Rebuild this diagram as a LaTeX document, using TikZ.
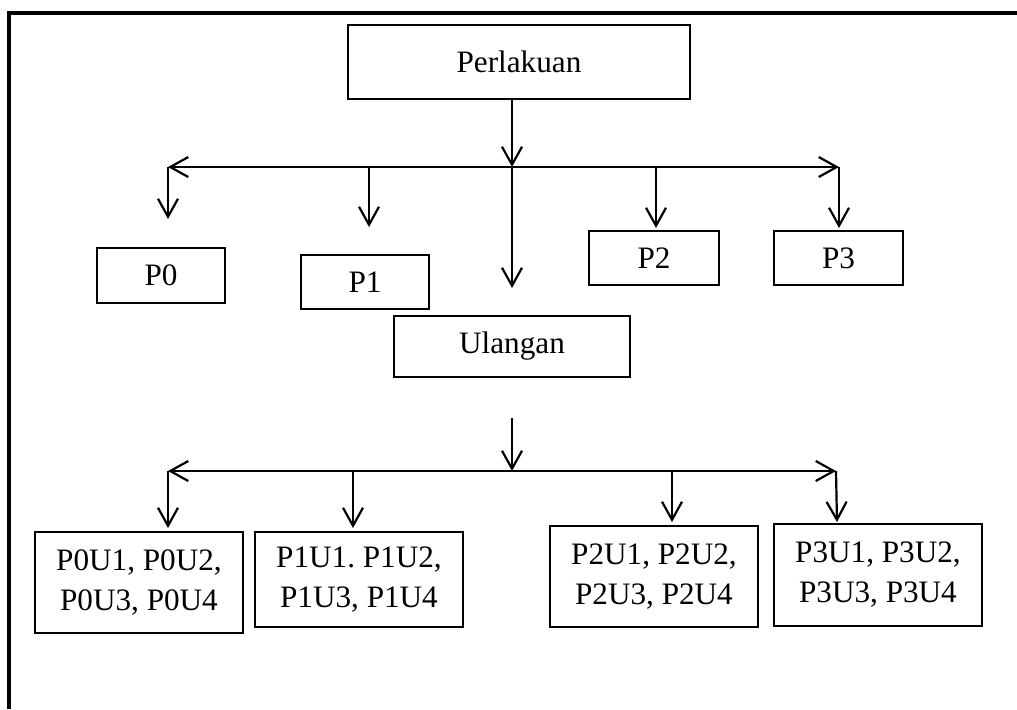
\documentclass[tikz,border=0pt]{standalone}
\usepackage{fontspec}
\setmainfont{Liberation Serif}
\usetikzlibrary{arrows.meta}
\frenchspacing
\begin{document}
\begin{tikzpicture}[x=0.5pt,y=-0.5pt,
  box/.style={draw, line width=0.7pt, inner sep=0pt, align=center,
    font=\fontsize{15.6pt}{20pt}\selectfont},
  conn/.style={line width=1.1pt, -{Straight Barb[length=9pt,width=10pt,line width=1.1pt]}},
  conn2/.style={line width=1.1pt, {Straight Barb[length=9pt,width=10pt,line width=1.1pt]}-{Straight Barb[length=9pt,width=10pt,line width=1.1pt]}},
  frame/.style={line width=2pt, line join=miter}]
\useasboundingbox (0,0) rectangle (1017,709);
\draw[frame] (9,709) -- (9,13) -- (1017,13);

% boxes
\node[box, minimum width=171pt, minimum height=37pt] (perl) at (519,62) {Perlakuan};
\node[box, minimum width=64pt, minimum height=27.5pt] (p0) at (161,275.5) {P0};
\node[box, minimum width=64pt, minimum height=27pt] (p1) at (365,282) {P1};
\node[box, minimum width=65pt, minimum height=27pt] (p2) at (654,258) {P2};
\node[box, minimum width=64.5pt, minimum height=27pt] (p3) at (838.5,258) {P3};
\node[box, minimum width=118pt, minimum height=30.5pt] (ul) at (512,346.5) {Ulangan};
\node[box, minimum width=104pt, minimum height=50.5pt] (q0) at (139,582.5) {P0U1, P0U2,\\P0U3, P0U4};
\node[box, minimum width=104pt, minimum height=47.5pt] (q1) at (359,579.5) {P1U1. P1U2,\\P1U3, P1U4};
\node[box, minimum width=104pt, minimum height=50.5pt] (q2) at (654,576.5) {P2U1, P2U2,\\P2U3, P2U4};
\node[box, minimum width=104pt, minimum height=51pt] (q3) at (878,575) {P3U1, P3U2,\\P3U3, P3U4};

% upper connectors
\coordinate (j1) at (512,167);
\coordinate (hl1) at (168,167);
\coordinate (hr1) at (839,167);
\coordinate (d0) at (168,219);
\coordinate (b1) at (369,167);
\coordinate (d1) at (369,227);
\coordinate (b2) at (656,167);
\coordinate (d2) at (656,228);
\coordinate (d3) at (839,228);
\coordinate (dc) at (512,288);
\draw[conn] (perl.south -| j1) -- (j1);
\draw[conn2] (hl1) -- (hr1);
\draw[conn] (hl1) -- (d0);
\draw[conn] (b1) -- (d1);
\draw[conn] (b2) -- (d2);
\draw[conn] (hr1) -- (d3);
\draw[conn] (j1) -- (dc);

% lower connectors
\coordinate (t2) at (512,418);
\coordinate (j2) at (512,471);
\coordinate (hl2) at (168,471);
\coordinate (hr2) at (836,471);
\coordinate (e0) at (168,528);
\coordinate (c1) at (353,471);
\coordinate (e1) at (353,528);
\coordinate (c2) at (672,471);
\coordinate (e2) at (672,522);
\coordinate (e3) at (837,522);
\draw[conn] (t2) -- (j2);
\draw[conn2] (hl2) -- (hr2);
\draw[conn] (hl2) -- (e0);
\draw[conn] (c1) -- (e1);
\draw[conn] (c2) -- (e2);
\draw[conn] (hr2) -- (e3);
\end{tikzpicture}
\end{document}
